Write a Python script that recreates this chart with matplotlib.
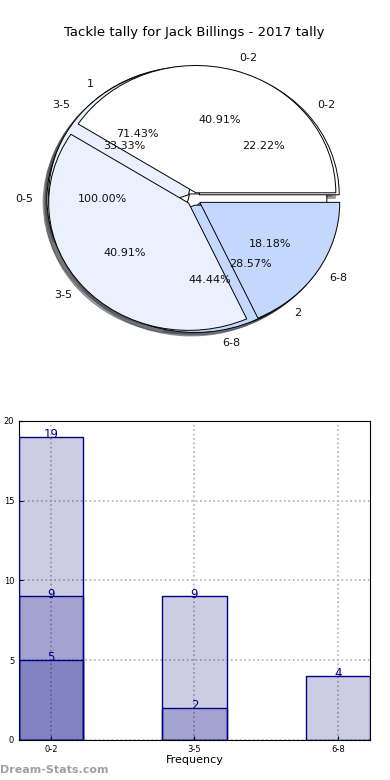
import matplotlib
matplotlib.use('Agg')
import matplotlib.pyplot as plt
import numpy as np

# pie data (several overlaid pies)
bins = ['0-2', '3-5', '6-8']
tally_a = [9, 9, 4]
labels_b = ['1', '2']
tally_b = [5, 2]
tally_c = [2, 3, 4]
labels_d = ['0-5']
tally_d = [5]

# bar data (bars drawn over each other from zero)
bar_total = [19, 9, 4]
bar_second = [9, 2]
bar_third = [5]

pie_colors = ['#ffffff', '#eaf0fe', '#c4d8fe']

fig = plt.figure(figsize=(3.9, 7.8), dpi=100)

# ---- pie ----
ax1 = fig.add_axes([0.0487, 0.541, 0.897, 0.408])


def draw_pie(ax, values, labels):
    ax.pie(values, labels=labels, colors=pie_colors[:len(values)],
           explode=[0.05] * len(values), autopct='%.2f%%', shadow=True,
           startangle=0, wedgeprops={'edgecolor': 'black', 'linewidth': 0.7},
           textprops={'fontsize': 8, 'color': '#111111'})


draw_pie(ax1, tally_d, labels_d)
draw_pie(ax1, tally_b, labels_b)
draw_pie(ax1, tally_c, bins)
draw_pie(ax1, tally_a, bins)
ax1.set_aspect('auto')
ax1.set_xlim(-1.25, 1.25)
ax1.set_ylim(-1.25, 1.25)
ax1.set_title('Tackle tally for Jack Billings - 2017 tally', fontsize=9.5, pad=3)

# ---- bars ----
ax2 = fig.add_axes([0.0487, 0.0513, 0.9, 0.409])
x = np.arange(len(bins))
for vals in [bar_total, bar_second, bar_third]:
    xs = x[:len(vals)]
    ax2.bar(xs, vals, width=0.45, color='navy', alpha=0.2, zorder=2)
    ax2.bar(xs, vals, width=0.45, facecolor='none', edgecolor='navy',
            linewidth=1, zorder=3)
    for xi, v in zip(xs, vals):
        ax2.text(xi, v + 0.15, str(v), ha='center', va='center',
                 fontsize=8.5, color='navy', zorder=4)

ax2.set_xlim(-0.225, 2.225)
ax2.set_ylim(0, 20)
ax2.set_xticks(x)
ax2.set_xticklabels(bins)
ax2.set_yticks([0, 5, 10, 15, 20])
ax2.tick_params(labelsize=6, length=3, direction='in')
ax2.grid(True, color='#b0b0b0', linestyle=':', linewidth=1.2, zorder=0)
ax2.set_axisbelow(True)
ax2.set_xlabel('Frequency', fontsize=8, labelpad=1)
ax2.set_ylabel('Total Tackles', fontsize=8, labelpad=1)

fig.text(0.0, 0.006, 'Dream-Stats.com', fontsize=8, fontweight='bold',
         color='#a0a0a0', ha='left', va='bottom')

fig.savefig('out.png', dpi=100)
